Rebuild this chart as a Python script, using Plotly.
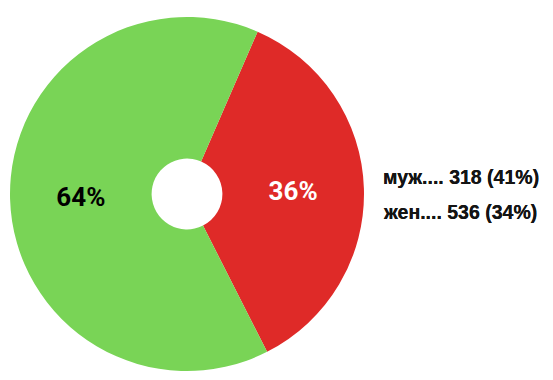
import plotly.graph_objects as go

# Pie slices (drawn clockwise, red first)
slice_labels = ["муж", "жен"]
slice_values = [36, 64]
slice_colors = ["#DF2A28", "#79D456"]
slice_text_colors = ["white", "black"]

# Side legend lines
legend_labels = ["муж", "жен"]
legend_counts = [318, 536]
legend_percents = [41, 34]

W, H = 553, 380

fig = go.Figure()
fig.add_trace(go.Pie(
    labels=slice_labels,
    values=slice_values,
    marker=dict(colors=slice_colors, line=dict(width=0)),
    hole=0.2,
    sort=False,
    direction="clockwise",
    rotation=23.5,
    textinfo="percent",
    texttemplate="<b>%{percent:.0%}</b>",
    textposition="inside",
    insidetextorientation="horizontal",
    insidetextfont=dict(family="Roboto", size=26, color=slice_text_colors),
    showlegend=False,
    hoverinfo="label+value+percent",
    domain=dict(x=[10 / W, 364 / W], y=[5 / H, 367 / H]),
))

line_y = [177, 212]
for lab, cnt, pct, y in zip(legend_labels, legend_counts, legend_percents, line_y):
    fig.add_annotation(
        text=f"<b>{lab}.... {cnt} ({pct}%)</b>",
        xref="paper", yref="paper",
        x=381 / W, y=1 - y / H,
        xanchor="left", yanchor="middle",
        showarrow=False,
        font=dict(family="Liberation Sans, Arial, sans-serif", size=19.5,
                  color="#141414", shadow="0 0 0.6px #141414"),
    )

fig.update_layout(
    width=W, height=H,
    margin=dict(l=0, r=0, t=0, b=0),
    paper_bgcolor="white",
    plot_bgcolor="white",
)

fig.write_html("out.html")
